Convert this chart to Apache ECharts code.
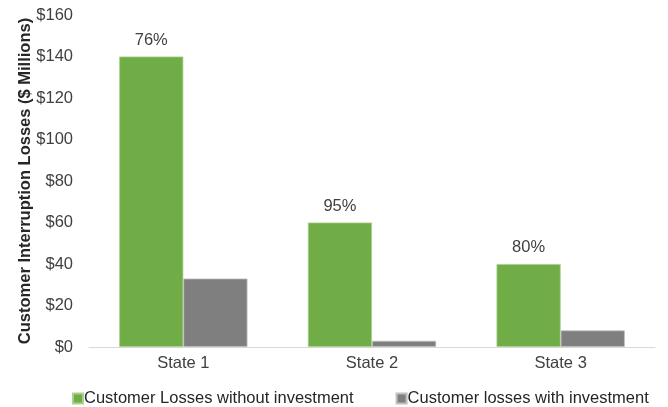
<!DOCTYPE html>
<html>
<head>
<meta charset="utf-8">
<script src="https://cdn.jsdelivr.net/npm/echarts@6/dist/echarts.min.js"></script>
<style>
  html, body { margin: 0; padding: 0; background: #fff; }
  #chart { width: 668px; height: 407px; }
</style>
</head>
<body>
<div id="chart"></div>
<script>
// Customer interruption losses by state, $ millions
const categories = ['State 1', 'State 2', 'State 3'];
const lossesWithout = [140, 60, 40];
const lossesWith = [33, 3, 8];
const reductionLabels = ['76%', '95%', '80%'];
const yTicks = { min: 0, max: 160, interval: 20 };

const FONT = '"Liberation Sans", Arial, sans-serif';
const chart = echarts.init(document.getElementById('chart'));

chart.setOption({
  animation: false,
  textStyle: { fontFamily: FONT },
  grid: { left: 89, right: 13, top: 15, bottom: 60, containLabel: false },
  legend: {
    top: 385,
    left: 67,
    itemWidth: 10,
    itemHeight: 10,
    itemGap: 42,
    icon: 'rect',
    textStyle: { fontFamily: FONT, fontSize: 16.5, color: '#262626', padding: [0, 0, 0, -4] },
    data: ['Customer Losses without investment', 'Customer losses with investment']
  },
  xAxis: {
    type: 'category',
    data: categories,
    axisLine: { lineStyle: { color: '#D9D9D9', width: 1 } },
    axisTick: { show: false },
    axisLabel: { fontFamily: FONT, fontSize: 16.5, color: '#404040', margin: 8 }
  },
  yAxis: {
    type: 'value',
    min: yTicks.min,
    max: yTicks.max,
    interval: yTicks.interval,
    name: 'Customer Interruption Losses ($ Millions)',
    nameLocation: 'middle',
    nameGap: 55,
    nameMoveOverlap: false,
    nameTextStyle: { fontFamily: FONT, fontSize: 16.5, fontWeight: 'bold', color: '#262626' },
    axisLine: { show: false },
    axisTick: { show: false },
    splitLine: { show: false },
    axisLabel: {
      fontFamily: FONT, fontSize: 16.5, color: '#404040', margin: 16,
      formatter: v => '$' + v
    }
  },
  series: [
    {
      name: 'Customer Losses without investment',
      type: 'bar',
      data: lossesWithout,
      barGap: '0%',
      barCategoryGap: '32%',
      itemStyle: { color: '#70AD47', borderColor: '#A9D18E', borderWidth: 0.8 },
      label: {
        show: true,
        position: 'top',
        distance: 8,
        fontFamily: FONT,
        fontSize: 16.5,
        color: '#404040',
        formatter: p => reductionLabels[p.dataIndex]
      }
    },
    {
      name: 'Customer losses with investment',
      type: 'bar',
      data: lossesWith,
      itemStyle: { color: '#7F7F7F', borderColor: '#BFBFBF', borderWidth: 0.8 }
    }
  ]
});
</script>
</body>
</html>
